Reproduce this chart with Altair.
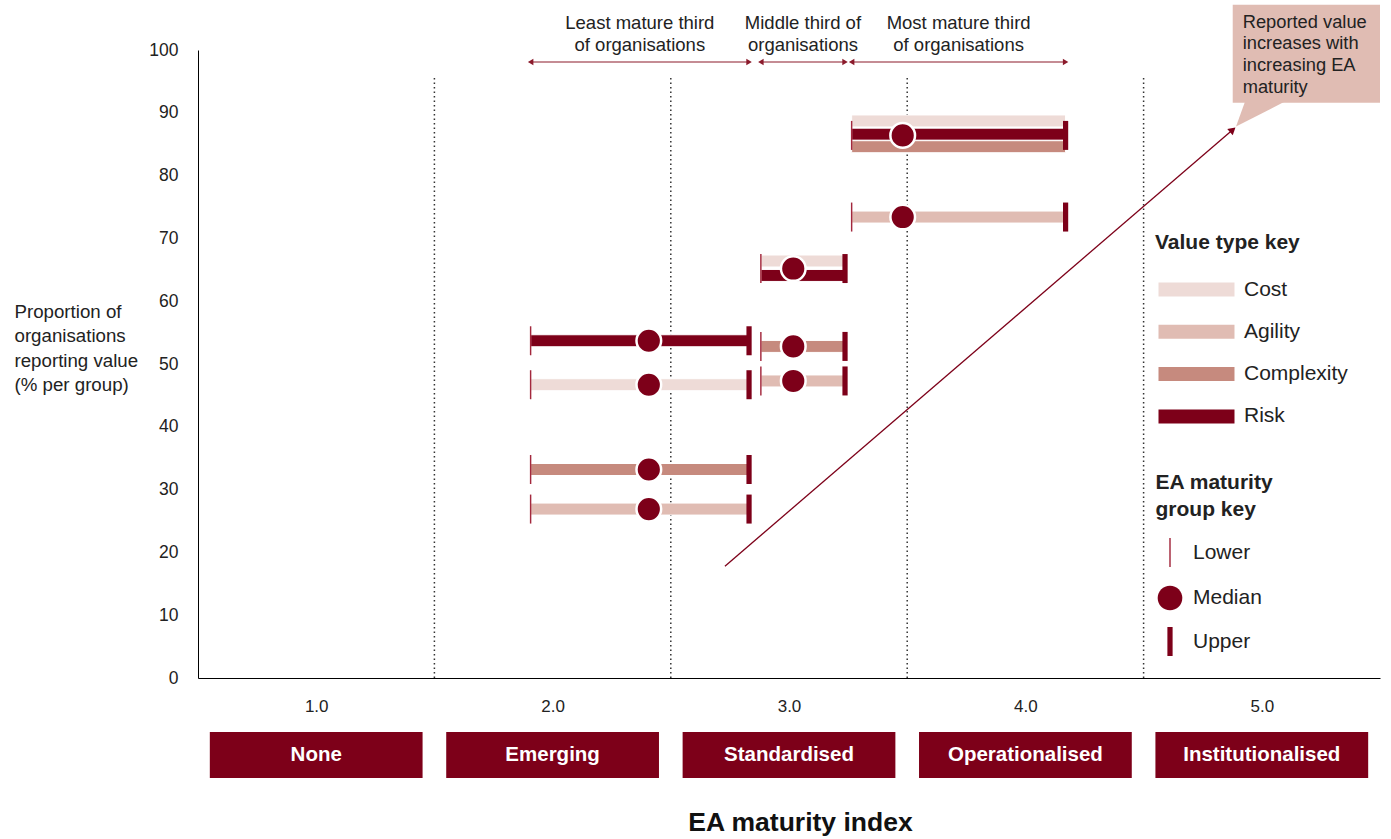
import altair as alt
import pandas as pd

FONT = "Liberation Sans"
DARK = "#7d0019"
TXT = "#222222"

# ---------------- data ----------------
value_types = ["Cost", "Agility", "Complexity", "Risk"]
value_colors = ["#eedbd7", "#e0bcb3", "#c68a7e", "#7d0019"]

group_labels = ["Least mature third\nof organisations",
                "Middle third of\norganisations",
                "Most mature third\nof organisations"]
group_lower = [1.907, 2.881, 3.265]
group_median = [2.407, 3.018, 3.481]
group_upper = [2.831, 3.237, 4.170]

bar_group = [0, 0, 0, 0, 1, 1, 1, 1, 2, 2, 2, 2]
bar_type = ["Risk", "Cost", "Complexity", "Agility",
            "Cost", "Risk", "Complexity", "Agility",
            "Cost", "Risk", "Complexity", "Agility"]
bar_value = [53.7, 46.7, 33.2, 26.9,
             66.4, 64.1, 52.8, 47.3,
             88.7, 86.6, 84.6, 73.4]

marker_group = [0, 0, 0, 0, 1, 1, 1, 2, 2]
marker_value = [53.7, 46.7, 33.2, 26.9, 65.2, 52.8, 47.3, 86.4, 73.4]
marker_kinds = ["Lower", "Median", "Upper"]

trend_x = [2.729, 4.877]
trend_y = [17.8, 87.3]

divider_x = [1.5, 2.5, 3.5, 4.5]
divider_top = 96

cat_x = [1, 2, 3, 4, 5]
cat_names = ["None", "Emerging", "Standardised", "Operationalised", "Institutionalised"]

callout_text = "Reported value\nincreases with\nincreasing EA\nmaturity"
callout_x = [4.877, 5.5]
callout_y = [91.6, 107.2]
pointer_x = [4.891]
pointer_y = [87.8]

# ---------------- tables ----------------
bars = pd.DataFrame({
    "type": bar_type,
    "y": bar_value,
    "x": [group_lower[g] for g in bar_group],
    "x2": [group_upper[g] for g in bar_group],
})

rows = []
for g, v in zip(marker_group, marker_value):
    rows.append({"marker": "Lower", "x": group_lower[g], "y": v})
    rows.append({"marker": "Upper", "x": group_upper[g], "y": v})
for g, v in zip(marker_group, marker_value):
    rows.append({"marker": "Median", "x": group_median[g], "y": v})
markers = pd.DataFrame(rows)

groups = pd.DataFrame({
    "x": group_lower, "x2": group_upper,
    "xm": [(a + b) / 2 for a, b in zip(group_lower, group_upper)],
    "label": group_labels,
})
dividers = pd.DataFrame({"x": divider_x, "y": [0] * 4, "y2": [divider_top] * 4})
trend = pd.DataFrame({"x": trend_x, "y": trend_y})
trend_end = trend.iloc[[-1]]
half = 0.45
cats = pd.DataFrame({"x": [c - half for c in cat_x], "x2": [c + half for c in cat_x],
                     "xm": cat_x, "name": cat_names})
callout = pd.DataFrame({"x": [callout_x[0]], "x2": [callout_x[1]],
                        "y": [callout_y[0]], "y2": [callout_y[1]], "text": [callout_text]})
pointer = pd.DataFrame({"x": pointer_x, "y": pointer_y})

# ---------------- scales / axes ----------------
xs = alt.Scale(domain=[0.5, 5.5], nice=False, zero=False, padding=0)
ys = alt.Scale(domain=[0, 100], nice=False, zero=False, padding=0)
x_axis = alt.Axis(values=[1, 2, 3, 4, 5], format=".1f", ticks=False, grid=False,
                  labelFlush=False,
                  labelFontSize=17, labelColor=TXT, labelFont=FONT, labelPadding=20,
                  domainColor="#000", domainWidth=1,
                  title="EA maturity index", titleFont=FONT, titleFontSize=26.5,
                  titleFontWeight="bold", titleColor="#111", titleY=144,
                  titleX=602, titleAlign="center",
                  titleBaseline="middle")
y_axis = alt.Axis(values=list(range(0, 101, 10)), ticks=False, grid=False,
                  labelFlush=False,
                  labelFontSize=17.5, labelColor=TXT, labelFont=FONT, labelPadding=20,
                  domainColor="#000", domainWidth=1,
                  title=["Proportion of", "organisations", "reporting value", "(% per group)"],
                  titleFont=FONT, titleFontSize=18.7, titleFontWeight="normal",
                  titleColor=TXT, titleAngle=0, titleAlign="left", titleBaseline="top",
                  titleX=-184, titleY=252, titleLineHeight=24.5)


def X(f="x"):
    return alt.X(f + ":Q", scale=xs, axis=x_axis)


def Y(f="y"):
    return alt.Y(f + ":Q", scale=ys, axis=y_axis)


rect_path = "M-1,-1H9.857V1H-1Z"
lower_path = "M-0.05,-1H0.05V1H-0.05Z"
upper_path = "M-0.18,-1H0.18V1H-0.18Z"
circle_path = "M-0.85,0A0.85,0.85,0,1,0,0.85,0A0.85,0.85,0,1,0,-0.85,0Z"

# ---------------- layers ----------------
div_layer = alt.Chart(dividers).mark_rule(color="#333", strokeWidth=1.5,
                                           strokeDash=[1.5, 3]).encode(
    x=X(), y=Y(), y2="y2:Q")

bar_layer = alt.Chart(bars).mark_bar(size=12, orient="horizontal", stroke="white",
                                     strokeWidth=1).encode(
    x=X(), x2="x2:Q", y=Y(),
    color=alt.Color("type:N", scale=alt.Scale(domain=value_types, range=value_colors),
                    legend=alt.Legend(title="Value type key", orient="none",
                                      legendX=957, legendY=182, padding=0,
                                      symbolType=rect_path, symbolSize=196,
                                      symbolStrokeWidth=0, symbolOpacity=1,
                                      labelOffset=68, rowPadding=20.3, titlePadding=26,
                                      titleFont=FONT, titleFontSize=21,
                                      titleFontWeight="bold", titleColor=TXT,
                                      labelFont=FONT, labelFontSize=21, labelColor=TXT)),
)

mk_legend = alt.Legend(title=["EA maturity", "group key"], orient="none",
                       legendX=957.5, legendY=422, padding=0,
                       symbolSize=841, symbolStrokeWidth=0, symbolOpacity=1,
                       labelOffset=8.5, rowPadding=16.5, titlePadding=18,
                       titleLineHeight=27,
                       titleFont=FONT, titleFontSize=21, titleFontWeight="bold",
                       titleColor=TXT, labelFont=FONT, labelFontSize=21, labelColor=TXT)

marker_layer = alt.Chart(markers).mark_point(filled=True, size=841, opacity=1,
                                             stroke="white").encode(
    x=X(), y=Y(),
    shape=alt.Shape("marker:N", scale=alt.Scale(domain=marker_kinds,
                                                range=[lower_path, circle_path, upper_path]),
                    legend=mk_legend),
    fill=alt.Fill("marker:N", scale=alt.Scale(domain=marker_kinds,
                                              range=["#a3283d", DARK, DARK]),
                  legend=mk_legend),
    strokeWidth=alt.condition("datum.marker == 'Median'", alt.value(2.5), alt.value(0)),
)

ann_text = alt.Chart(groups).mark_text(font=FONT, fontSize=18.5, color=TXT,
                                       lineBreak="\n", lineHeight=22,
                                       baseline="alphabetic").encode(
    x=X("xm"), y=alt.value(-21.5), text="label:N")
ann_rule = alt.Chart(groups).mark_rule(color="#8b1a2b", strokeWidth=1.2).encode(
    x=X(), x2="x2:Q", y=alt.value(12))
ann_left = alt.Chart(groups).mark_point(shape="triangle-left", filled=True,
                                        color="#8b1a2b", size=40, opacity=1).encode(
    x=X(), y=alt.value(12))
ann_right = alt.Chart(groups).mark_point(shape="triangle-right", filled=True,
                                         color="#8b1a2b", size=40, opacity=1).encode(
    x=X("x2"), y=alt.value(12))

trend_line = alt.Chart(trend).mark_line(color=DARK, strokeWidth=1.3).encode(
    x=X(), y=Y())
trend_head = alt.Chart(trend_end).mark_point(shape="triangle-up", filled=True,
                                             color=DARK, size=70, angle=49,
                                             opacity=1).encode(x=X(), y=Y())

callout_box = alt.Chart(callout).mark_rect(color="#e0bcb3").encode(
    x=X(), x2="x2:Q", y=Y(), y2="y2:Q")
callout_ptr = alt.Chart(pointer).mark_point(shape="M0,0L0.372,-1.03L2.012,-1.03Z",
                                            filled=True, color="#e0bcb3", size=2500,
                                            opacity=1).encode(x=X(), y=Y())
callout_txt = alt.Chart(callout).mark_text(font=FONT, fontSize=18.3, color=TXT,
                                           align="left", baseline="alphabetic",
                                           lineBreak="\n", lineHeight=21.7,
                                           dx=10, dy=23).encode(
    x=X(), y=Y("y2"), text="text:N")

cat_box = alt.Chart(cats).mark_rect(color=DARK).encode(
    x=X(), x2="x2:Q", y=alt.value(682), y2=alt.value(728))
cat_txt = alt.Chart(cats).mark_text(font=FONT, fontSize=20.5, fontWeight="bold",
                                    color="white", baseline="middle").encode(
    x=X("xm"), y=alt.value(705), text="name:N")

chart = alt.layer(
    div_layer, trend_line, trend_head, bar_layer, marker_layer,
    ann_text, ann_rule, ann_left, ann_right,
    callout_box, callout_ptr, callout_txt, cat_box, cat_txt,
).properties(
    width=1182, height=628,
    autosize=alt.AutoSizeParams(type="none"),
    padding={"left": 198, "top": 50, "right": 11, "bottom": 161},
).configure(font=FONT).configure_view(stroke=None)

chart.save("out.html", embed_options={"renderer": "svg", "actions": False})
